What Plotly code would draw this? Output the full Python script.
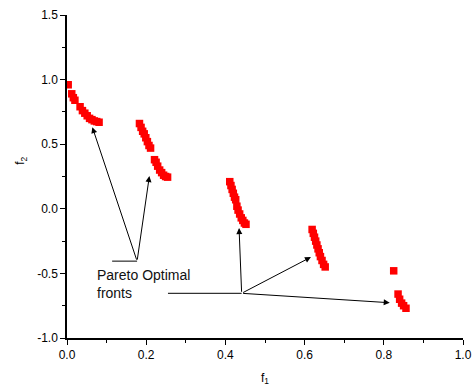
import plotly.graph_objects as go

# Pareto front samples (f1, f2)
front1_f1 = [0.003, 0.012, 0.016, 0.020, 0.033, 0.039, 0.045, 0.051, 0.057, 0.063, 0.069, 0.075, 0.081]
front1_f2 = [0.96, 0.89, 0.86, 0.84, 0.79, 0.76, 0.74, 0.72, 0.70, 0.69, 0.68, 0.675, 0.67]
front2_f1 = [0.183, 0.187, 0.191, 0.195, 0.199, 0.203, 0.207, 0.211, 0.221, 0.225, 0.229, 0.234, 0.239, 0.244, 0.249, 0.254]
front2_f2 = [0.66, 0.63, 0.60, 0.58, 0.55, 0.52, 0.49, 0.47, 0.38, 0.36, 0.33, 0.30, 0.28, 0.26, 0.25, 0.245]
front3_f1 = [0.411, 0.414, 0.417, 0.420, 0.423, 0.426, 0.429, 0.432, 0.436, 0.440, 0.444, 0.448, 0.452]
front3_f2 = [0.21, 0.18, 0.15, 0.12, 0.09, 0.07, 0.02, -0.01, -0.04, -0.07, -0.09, -0.11, -0.12]
front4_f1 = [0.619, 0.622, 0.625, 0.628, 0.631, 0.634, 0.637, 0.640, 0.644, 0.648, 0.652]
front4_f2 = [-0.16, -0.19, -0.22, -0.25, -0.28, -0.31, -0.34, -0.37, -0.40, -0.43, -0.45]
front5_f1 = [0.825, 0.836, 0.840, 0.845, 0.850, 0.856]
front5_f2 = [-0.48, -0.66, -0.70, -0.73, -0.75, -0.77]

x_ticks = [0.0, 0.2, 0.4, 0.6, 0.8, 1.0]
x_ticktext = ["0.0", "0.2", "0.4", "0.6", "0.8", "1.0"]
y_ticks = [-1.0, -0.5, 0.0, 0.5, 1.0, 1.5]
y_ticktext = ["-1.0", "-0.5", "0.0", "0.5", "1.0", "1.5"]

label_text = "Pareto Optimal<br>fronts"
# arrow groups: (vertex, [tips]), plus leader line start
group1_vertex = (0.177, -0.405)
group1_start = (0.114, -0.405)
group1_tips = [(0.064, 0.632), (0.208, 0.253)]
group2_vertex = (0.441, -0.654)
group2_start = (0.255, -0.654)
group2_tips = [(0.4345, -0.149), (0.616, -0.374), (0.815, -0.727)]

xs = front1_f1 + front2_f1 + front3_f1 + front4_f1 + front5_f1
ys = front1_f2 + front2_f2 + front3_f2 + front4_f2 + front5_f2

fig = go.Figure()
fig.add_trace(go.Scatter(
    x=xs, y=ys, mode="markers",
    marker=dict(symbol="square", size=7.5, color="#FF0000", line=dict(width=0)),
    showlegend=False, hoverinfo="skip"))

font = dict(family="Liberation Sans, Arial, sans-serif", size=12, color="black")

annotations = []
shapes = []
for vertex, start, tips in [(group1_vertex, group1_start, group1_tips),
                            (group2_vertex, group2_start, group2_tips)]:
    shapes.append(dict(type="line", xref="x", yref="y",
                       x0=start[0], y0=start[1], x1=vertex[0], y1=vertex[1],
                       line=dict(color="black", width=1)))
    for tx, ty in tips:
        annotations.append(dict(x=tx, y=ty, ax=vertex[0], ay=vertex[1],
                                xref="x", yref="y", axref="x", ayref="y",
                                showarrow=True, arrowhead=2, arrowsize=1.2,
                                arrowwidth=1, arrowcolor="black", text=""))

annotations.append(dict(x=0.0716, y=-0.582, xref="x", yref="y", text=label_text,
                        showarrow=False, xanchor="left", yanchor="middle", align="left",
                        font=dict(family="Liberation Sans, Arial, sans-serif", size=14, color="#111")))
annotations.append(dict(x=-0.115, y=0.55, xref="paper", yref="paper", text="f<sub>2</sub>",
                        showarrow=False, textangle=-90, xanchor="center", yanchor="middle",
                        font=font))

fig.update_layout(
    width=473, height=390,
    margin=dict(l=67, r=10, t=15, b=52),
    paper_bgcolor="white", plot_bgcolor="white",
    font=font,
    annotations=annotations, shapes=shapes,
    xaxis=dict(range=[0, 1.0], tickvals=x_ticks, ticktext=x_ticktext, automargin=False,
               showgrid=False, zeroline=False, showline=True, linecolor="black", linewidth=1.5,
               ticks="outside", ticklen=5, tickwidth=1, tickcolor="black",
               minor=dict(dtick=0.1, ticks="outside", ticklen=3, tickcolor="black", showgrid=False),
               title=dict(text="f<sub>1</sub>", standoff=12, font=font)),
    yaxis=dict(range=[-1.0, 1.5], tickvals=y_ticks, ticktext=y_ticktext, automargin=False,
               showgrid=False, zeroline=False, showline=True, linecolor="black", linewidth=1.5,
               ticks="outside", ticklen=5, tickwidth=1, tickcolor="black",
               minor=dict(dtick=0.25, ticks="outside", ticklen=3, tickcolor="black", showgrid=False)),
)

fig.write_html("out.html")
